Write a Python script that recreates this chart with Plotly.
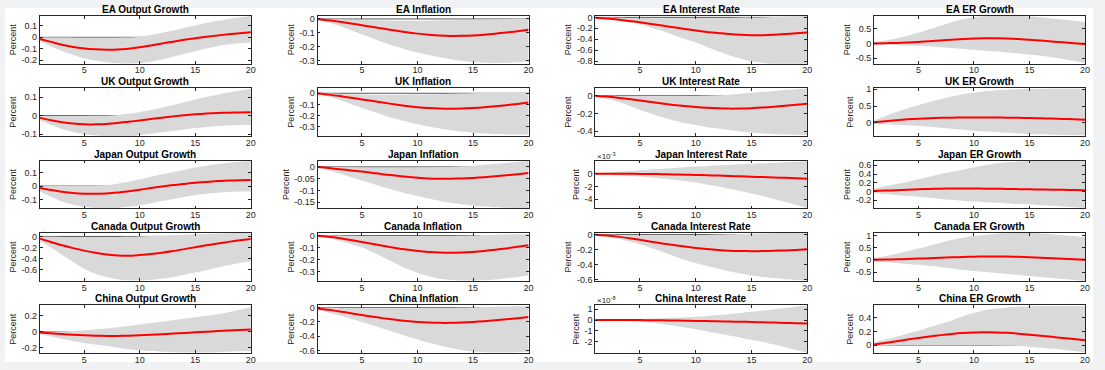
import plotly.graph_objects as go

# ---------------- data ----------------
horizon = list(range(1, 21))
countries = ["EA", "UK", "Japan", "Canada", "China"]
variables = ["Output Growth", "Inflation", "Interest Rate", "ER Growth"]

# EA
ea_out_med = [-0.015,-0.04,-0.065,-0.085,-0.098,-0.106,-0.11,-0.108,-0.1,-0.088,-0.072,-0.055,-0.038,-0.022,-0.008,0.005,0.016,0.027,0.036,0.045]
ea_out_lo = [-0.03,-0.08,-0.12,-0.155,-0.185,-0.205,-0.22,-0.23,-0.232,-0.228,-0.215,-0.195,-0.17,-0.145,-0.12,-0.098,-0.078,-0.062,-0.052,-0.045]
ea_out_hi = [0.0,-0.001,-0.002,-0.003,-0.003,-0.003,-0.003,-0.003,-0.002,0.005,0.02,0.04,0.06,0.085,0.105,0.125,0.145,0.162,0.177,0.188]

ea_inf_med = [-0.002,-0.01,-0.02,-0.032,-0.045,-0.058,-0.07,-0.083,-0.095,-0.105,-0.113,-0.119,-0.122,-0.121,-0.118,-0.113,-0.106,-0.097,-0.088,-0.077]
ea_inf_lo = [-0.005,-0.025,-0.05,-0.08,-0.11,-0.14,-0.17,-0.195,-0.22,-0.24,-0.258,-0.274,-0.288,-0.3,-0.308,-0.313,-0.315,-0.314,-0.31,-0.305]
ea_inf_hi = [0.0,-0.002,-0.004,-0.006,-0.008,-0.01,-0.011,-0.012,-0.012,-0.012,-0.012,-0.011,-0.01,-0.008,-0.006,-0.004,-0.002,0.0,0.002,0.004]

ea_ir_med = [-0.005,-0.02,-0.04,-0.065,-0.09,-0.12,-0.15,-0.18,-0.21,-0.24,-0.265,-0.285,-0.305,-0.318,-0.325,-0.325,-0.318,-0.305,-0.29,-0.275]
ea_ir_lo = [-0.01,-0.03,-0.06,-0.09,-0.13,-0.19,-0.25,-0.32,-0.39,-0.46,-0.54,-0.62,-0.69,-0.75,-0.8,-0.83,-0.86,-0.88,-0.89,-0.9]
ea_ir_hi = [0.0,-0.004,-0.008,-0.011,-0.013,-0.014,-0.015,-0.015,-0.015,-0.014,-0.013,-0.011,-0.009,-0.006,-0.003,0.0,0.005,0.012,0.02,0.028]

ea_er_med = [0.0,0.005,0.015,0.03,0.05,0.075,0.1,0.125,0.15,0.165,0.175,0.175,0.165,0.145,0.12,0.095,0.065,0.035,0.005,-0.025]
ea_er_lo = [-0.04,-0.05,-0.06,-0.07,-0.08,-0.1,-0.13,-0.16,-0.19,-0.22,-0.25,-0.28,-0.31,-0.34,-0.38,-0.42,-0.47,-0.53,-0.6,-0.67]
ea_er_hi = [0.05,0.1,0.17,0.26,0.36,0.48,0.6,0.72,0.82,0.89,0.93,0.95,0.96,0.95,0.92,0.89,0.85,0.81,0.77,0.73]

# UK
uk_out_med = [-0.012,-0.025,-0.035,-0.042,-0.046,-0.047,-0.045,-0.04,-0.033,-0.026,-0.018,-0.011,-0.004,0.002,0.007,0.011,0.014,0.016,0.017,0.018]
uk_out_lo = [-0.025,-0.05,-0.072,-0.088,-0.1,-0.107,-0.111,-0.112,-0.11,-0.105,-0.098,-0.09,-0.082,-0.074,-0.067,-0.061,-0.056,-0.053,-0.051,-0.05]
uk_out_hi = [-0.002,-0.002,-0.002,-0.002,-0.002,-0.001,0.0,0.004,0.01,0.019,0.03,0.043,0.057,0.072,0.087,0.1,0.112,0.124,0.135,0.145]

uk_inf_med = [-0.002,-0.012,-0.025,-0.04,-0.055,-0.07,-0.085,-0.1,-0.113,-0.124,-0.132,-0.137,-0.139,-0.137,-0.132,-0.125,-0.116,-0.106,-0.095,-0.083]
uk_inf_lo = [-0.005,-0.03,-0.06,-0.095,-0.13,-0.165,-0.198,-0.228,-0.254,-0.277,-0.297,-0.315,-0.33,-0.343,-0.353,-0.36,-0.365,-0.368,-0.369,-0.368]
uk_inf_hi = [0.0,-0.003,-0.006,-0.009,-0.011,-0.013,-0.014,-0.014,-0.013,-0.012,-0.01,-0.008,-0.005,-0.002,0.001,0.004,0.007,0.01,0.012,0.014]

uk_ir_med = [-0.002,-0.01,-0.022,-0.038,-0.055,-0.072,-0.089,-0.104,-0.117,-0.128,-0.137,-0.143,-0.146,-0.145,-0.141,-0.134,-0.125,-0.114,-0.102,-0.09]
uk_ir_lo = [-0.005,-0.03,-0.065,-0.11,-0.16,-0.205,-0.245,-0.28,-0.308,-0.332,-0.353,-0.372,-0.389,-0.404,-0.417,-0.427,-0.435,-0.44,-0.443,-0.445]
uk_ir_hi = [0.0,-0.001,-0.002,-0.002,-0.003,-0.003,-0.003,-0.003,-0.003,-0.002,0.0,0.005,0.012,0.022,0.033,0.044,0.055,0.065,0.074,0.082]

uk_er_med = [0.02,0.05,0.08,0.105,0.125,0.14,0.15,0.156,0.159,0.16,0.16,0.158,0.155,0.15,0.144,0.137,0.128,0.118,0.107,0.095]
uk_er_lo = [-0.03,-0.04,-0.055,-0.07,-0.09,-0.11,-0.14,-0.17,-0.2,-0.23,-0.255,-0.275,-0.295,-0.31,-0.325,-0.337,-0.347,-0.355,-0.362,-0.368]
uk_er_hi = [0.08,0.2,0.32,0.43,0.53,0.62,0.7,0.78,0.85,0.9,0.94,0.97,0.99,1.0,1.01,1.01,1.02,1.02,1.02,1.02]

# Japan
jp_out_med = [-0.015,-0.03,-0.043,-0.052,-0.057,-0.058,-0.055,-0.048,-0.038,-0.027,-0.015,-0.004,0.007,0.016,0.024,0.031,0.037,0.041,0.044,0.045]
jp_out_lo = [-0.04,-0.08,-0.115,-0.14,-0.155,-0.163,-0.166,-0.163,-0.155,-0.143,-0.128,-0.112,-0.096,-0.081,-0.068,-0.057,-0.049,-0.044,-0.041,-0.04]
jp_out_hi = [0.0,0.0,0.0,0.0,0.0,0.002,0.008,0.018,0.032,0.05,0.068,0.087,0.105,0.122,0.138,0.152,0.164,0.174,0.181,0.186]

jp_inf_med = [-0.001,-0.005,-0.01,-0.015,-0.02,-0.026,-0.032,-0.037,-0.042,-0.046,-0.049,-0.05,-0.05,-0.049,-0.047,-0.044,-0.04,-0.036,-0.031,-0.026]
jp_inf_lo = [-0.003,-0.015,-0.028,-0.043,-0.058,-0.073,-0.088,-0.101,-0.113,-0.124,-0.135,-0.145,-0.153,-0.16,-0.165,-0.169,-0.172,-0.174,-0.175,-0.176]
jp_inf_hi = [0.0,-0.001,-0.002,-0.003,-0.004,-0.005,-0.005,-0.005,-0.005,-0.004,-0.003,-0.002,0.0,0.002,0.005,0.009,0.013,0.017,0.021,0.025]

# Japan interest rate, in units of 1e-3
jp_ir_scale = 1e-3
jp_ir_med = [0.0,0.0,-0.01,-0.02,-0.04,-0.06,-0.09,-0.12,-0.16,-0.2,-0.25,-0.3,-0.36,-0.42,-0.48,-0.54,-0.6,-0.66,-0.72,-0.78]
jp_ir_lo = [-0.1,-0.2,-0.3,-0.38,-0.45,-0.6,-0.75,-0.95,-1.15,-1.4,-1.7,-2.0,-2.35,-2.7,-3.1,-3.5,-3.95,-4.4,-4.9,-5.4]
jp_ir_hi = [0.08,0.18,0.3,0.42,0.54,0.66,0.78,0.9,1.0,1.1,1.2,1.3,1.4,1.48,1.56,1.64,1.72,1.8,1.86,1.92]

jp_er_med = [0.01,0.02,0.03,0.04,0.05,0.058,0.064,0.067,0.068,0.067,0.065,0.062,0.058,0.054,0.05,0.046,0.042,0.038,0.034,0.03]
jp_er_lo = [-0.04,-0.06,-0.08,-0.1,-0.12,-0.145,-0.17,-0.19,-0.21,-0.23,-0.245,-0.26,-0.275,-0.29,-0.3,-0.315,-0.33,-0.345,-0.36,-0.375]
jp_er_hi = [0.07,0.12,0.17,0.22,0.28,0.34,0.4,0.45,0.5,0.55,0.6,0.64,0.67,0.69,0.7,0.71,0.71,0.71,0.71,0.71]

# Canada
ca_out_med = [-0.04,-0.1,-0.16,-0.21,-0.255,-0.295,-0.325,-0.342,-0.348,-0.335,-0.318,-0.293,-0.263,-0.228,-0.193,-0.16,-0.128,-0.098,-0.07,-0.045]
ca_out_lo = [-0.08,-0.2,-0.33,-0.46,-0.58,-0.67,-0.73,-0.77,-0.79,-0.79,-0.78,-0.76,-0.73,-0.69,-0.65,-0.61,-0.56,-0.52,-0.48,-0.44]
ca_out_hi = [0.0,-0.005,-0.008,-0.01,-0.01,-0.01,-0.01,-0.009,-0.006,0.0,0.007,0.015,0.023,0.031,0.039,0.046,0.052,0.057,0.06,0.063]

ca_inf_med = [-0.002,-0.01,-0.022,-0.037,-0.053,-0.07,-0.087,-0.103,-0.117,-0.128,-0.136,-0.141,-0.143,-0.141,-0.136,-0.128,-0.118,-0.107,-0.094,-0.08]
ca_inf_lo = [-0.01,-0.025,-0.045,-0.07,-0.1,-0.14,-0.185,-0.23,-0.275,-0.31,-0.34,-0.36,-0.37,-0.375,-0.375,-0.372,-0.366,-0.356,-0.345,-0.333]
ca_inf_hi = [0.005,0.003,0.0,-0.002,-0.004,-0.005,-0.006,-0.006,-0.006,-0.006,-0.005,-0.004,-0.003,-0.001,0.001,0.004,0.007,0.01,0.012,0.014]

ca_ir_med = [-0.002,-0.012,-0.027,-0.047,-0.07,-0.094,-0.118,-0.14,-0.16,-0.178,-0.193,-0.205,-0.214,-0.219,-0.221,-0.22,-0.216,-0.211,-0.204,-0.197]
ca_ir_lo = [-0.005,-0.025,-0.055,-0.09,-0.13,-0.18,-0.23,-0.285,-0.335,-0.38,-0.42,-0.455,-0.49,-0.52,-0.545,-0.565,-0.58,-0.595,-0.605,-0.612]
ca_ir_hi = [0.0,-0.002,-0.004,-0.006,-0.008,-0.009,-0.01,-0.01,-0.009,-0.007,-0.004,0.0,0.004,0.008,0.012,0.015,0.018,0.02,0.021,0.022]

ca_er_med = [0.0,0.01,0.02,0.035,0.05,0.068,0.086,0.103,0.118,0.13,0.137,0.138,0.133,0.122,0.106,0.087,0.066,0.044,0.022,0.0]
ca_er_lo = [-0.07,-0.1,-0.13,-0.165,-0.2,-0.25,-0.3,-0.35,-0.41,-0.46,-0.5,-0.54,-0.58,-0.62,-0.66,-0.7,-0.74,-0.78,-0.82,-0.86]
ca_er_hi = [0.08,0.15,0.25,0.35,0.46,0.58,0.7,0.81,0.9,0.97,1.03,1.07,1.09,1.1,1.1,1.08,1.05,1.01,0.97,0.93]

# China
cn_out_med = [-0.01,-0.02,-0.03,-0.038,-0.045,-0.05,-0.053,-0.053,-0.05,-0.045,-0.039,-0.032,-0.024,-0.016,-0.008,0.0,0.008,0.015,0.022,0.028]
cn_out_lo = [-0.03,-0.06,-0.09,-0.115,-0.14,-0.16,-0.18,-0.2,-0.218,-0.232,-0.243,-0.251,-0.257,-0.26,-0.261,-0.26,-0.257,-0.252,-0.246,-0.24]
cn_out_hi = [0.0,0.002,0.005,0.01,0.017,0.027,0.04,0.055,0.072,0.09,0.108,0.126,0.144,0.162,0.18,0.2,0.22,0.245,0.275,0.31]

cn_inf_med = [-0.01,-0.03,-0.053,-0.078,-0.103,-0.127,-0.15,-0.17,-0.187,-0.2,-0.208,-0.213,-0.213,-0.208,-0.2,-0.19,-0.178,-0.163,-0.147,-0.13]
cn_inf_lo = [-0.03,-0.07,-0.11,-0.155,-0.2,-0.25,-0.3,-0.35,-0.4,-0.445,-0.49,-0.53,-0.565,-0.595,-0.615,-0.625,-0.63,-0.63,-0.625,-0.615]
cn_inf_hi = [0.0,-0.002,-0.004,-0.006,-0.008,-0.01,-0.011,-0.012,-0.012,-0.011,-0.009,-0.006,-0.003,0.0,0.004,0.008,0.012,0.016,0.019,0.022]

# China interest rate, in units of 1e-8
cn_ir_scale = 1e-8
cn_ir_med = [0.0,0.0,0.0,-0.01,-0.01,-0.02,-0.03,-0.04,-0.06,-0.08,-0.1,-0.12,-0.14,-0.16,-0.18,-0.21,-0.24,-0.27,-0.3,-0.33]
cn_ir_lo = [-0.02,-0.05,-0.08,-0.12,-0.17,-0.25,-0.36,-0.5,-0.67,-0.86,-1.05,-1.24,-1.43,-1.62,-1.82,-2.03,-2.26,-2.5,-2.76,-3.03]
cn_ir_hi = [0.02,0.04,0.06,0.08,0.1,0.13,0.16,0.2,0.25,0.3,0.37,0.45,0.54,0.64,0.75,0.86,0.98,1.1,1.22,1.35]

cn_er_med = [0.01,0.03,0.055,0.08,0.103,0.125,0.145,0.162,0.175,0.183,0.186,0.185,0.178,0.165,0.15,0.135,0.12,0.104,0.088,0.072]
cn_er_lo = [-0.01,-0.005,-0.002,0.0,0.001,0.002,0.002,0.002,0.002,0.001,0.0,-0.003,-0.008,-0.015,-0.025,-0.038,-0.052,-0.068,-0.088,-0.11]
cn_er_hi = [0.04,0.08,0.12,0.165,0.21,0.26,0.31,0.36,0.42,0.47,0.51,0.535,0.55,0.56,0.565,0.57,0.57,0.57,0.57,0.565]

x_tickvals = [5, 10, 15, 20]

# ---------------- panel specs (styling) ----------------
S1 = 1.0
panels = [
    # row EA
    dict(med=ea_out_med, lo=ea_out_lo, hi=ea_out_hi, s=S1, yr=[-0.232, 0.19], tv=[-0.2, -0.1, 0, 0.1], tt=["-0.2", "-0.1", "0", "0.1"]),
    dict(med=ea_inf_med, lo=ea_inf_lo, hi=ea_inf_hi, s=S1, yr=[-0.32, 0.023], tv=[-0.3, -0.2, -0.1, 0], tt=["-0.3", "-0.2", "-0.1", "0"]),
    dict(med=ea_ir_med, lo=ea_ir_lo, hi=ea_ir_hi, s=S1, yr=[-0.845, 0.03], tv=[-0.8, -0.6, -0.4, -0.2, 0], tt=["-0.8", "-0.6", "-0.4", "-0.2", "0"]),
    dict(med=ea_er_med, lo=ea_er_lo, hi=ea_er_hi, s=S1, yr=[-0.69, 0.94], tv=[-0.5, 0, 0.5], tt=["-0.5", "0", "0.5"]),
    # row UK
    dict(med=uk_out_med, lo=uk_out_lo, hi=uk_out_hi, s=S1, yr=[-0.11, 0.148], tv=[-0.1, 0, 0.1], tt=["-0.1", "0", "0.1"]),
    dict(med=uk_inf_med, lo=uk_inf_lo, hi=uk_inf_hi, s=S1, yr=[-0.383, 0.046], tv=[-0.3, -0.2, -0.1, 0], tt=["-0.3", "-0.2", "-0.1", "0"]),
    dict(med=uk_ir_med, lo=uk_ir_lo, hi=uk_ir_hi, s=S1, yr=[-0.457, 0.086], tv=[-0.4, -0.2, 0], tt=["-0.4", "-0.2", "0"]),
    dict(med=uk_er_med, lo=uk_er_lo, hi=uk_er_hi, s=S1, yr=[-0.39, 1.03], tv=[0, 0.5, 1], tt=["0", "0.5", "1"]),
    # row Japan
    dict(med=jp_out_med, lo=jp_out_lo, hi=jp_out_hi, s=S1, yr=[-0.167, 0.19], tv=[-0.1, 0, 0.1], tt=["-0.1", "0", "0.1"]),
    dict(med=jp_inf_med, lo=jp_inf_lo, hi=jp_inf_hi, s=S1, yr=[-0.177, 0.027], tv=[-0.15, -0.1, -0.05, 0], tt=["-0.15", "-0.1", "-0.05", "0"]),
    dict(med=jp_ir_med, lo=jp_ir_lo, hi=jp_ir_hi, s=jp_ir_scale, yr=[-5.45e-3, 2.05e-3], tv=[-4e-3, -2e-3, 0], tt=["-4", "-2", "0"], exp="-3"),
    dict(med=jp_er_med, lo=jp_er_lo, hi=jp_er_hi, s=S1, yr=[-0.39, 0.71], tv=[-0.2, 0, 0.2, 0.4, 0.6], tt=["-0.2", "0", "0.2", "0.4", "0.6"]),
    # row Canada
    dict(med=ca_out_med, lo=ca_out_lo, hi=ca_out_hi, s=S1, yr=[-0.8, 0.063], tv=[-0.6, -0.4, -0.2, 0], tt=["-0.6", "-0.4", "-0.2", "0"]),
    dict(med=ca_inf_med, lo=ca_inf_lo, hi=ca_inf_hi, s=S1, yr=[-0.378, 0.022], tv=[-0.3, -0.2, -0.1, 0], tt=["-0.3", "-0.2", "-0.1", "0"]),
    dict(med=ca_ir_med, lo=ca_ir_lo, hi=ca_ir_hi, s=S1, yr=[-0.617, 0.022], tv=[-0.6, -0.4, -0.2, 0], tt=["-0.6", "-0.4", "-0.2", "0"]),
    dict(med=ca_er_med, lo=ca_er_lo, hi=ca_er_hi, s=S1, yr=[-0.86, 1.1], tv=[-0.5, 0, 0.5, 1], tt=["-0.5", "0", "0.5", "1"]),
    # row China
    dict(med=cn_out_med, lo=cn_out_lo, hi=cn_out_hi, s=S1, yr=[-0.27, 0.33], tv=[-0.2, 0, 0.2], tt=["-0.2", "0", "0.2"]),
    dict(med=cn_inf_med, lo=cn_inf_lo, hi=cn_inf_hi, s=S1, yr=[-0.64, 0.033], tv=[-0.6, -0.4, -0.2, 0], tt=["-0.6", "-0.4", "-0.2", "0"]),
    dict(med=cn_ir_med, lo=cn_ir_lo, hi=cn_ir_hi, s=cn_ir_scale, yr=[-3.06e-8, 1.35e-8], tv=[-2e-8, -1e-8, 0, 1e-8], tt=["-2", "-1", "0", "1"], exp="-8"),
    dict(med=cn_er_med, lo=cn_er_lo, hi=cn_er_hi, s=S1, yr=[-0.12, 0.58], tv=[0, 0.2, 0.4], tt=["0", "0.2", "0.4"]),
]

W, Hpx = 1105, 370
col_px = [(40, 252), (319, 531), (598, 811), (878, 1090)]
row_top0, row_pitch, row_h = 12, 74, 49

FONT = "Liberation Sans, Arial, Helvetica, sans-serif"
AX = "#262626"
BAND = "#d9d9d9"

fig = go.Figure()
layout = dict(
    width=W, height=Hpx, margin=dict(l=0, r=0, t=0, b=0),
    paper_bgcolor="#f1f2f4", plot_bgcolor="white", showlegend=False,
    font=dict(family=FONT, size=9, color=AX),
)
annotations = []
shapes = [dict(type="rect", xref="paper", yref="paper", x0=5 / W, x1=1098 / W,
               y0=1 - 366 / Hpx, y1=1 - 4 / Hpx, fillcolor="white", line=dict(width=0), layer="below")]

for i, p in enumerate(panels):
    r, c = divmod(i, 4)
    k = i + 1
    xa = "x" if k == 1 else f"x{k}"
    ya = "y" if k == 1 else f"y{k}"
    x0, x1 = col_px[c]
    top = row_top0 + r * row_pitch
    bot = top + row_h
    s = p["s"]
    lo = [v * s for v in p["lo"]]
    hi = [v * s for v in p["hi"]]
    med = [v * s for v in p["med"]]
    fig.add_trace(go.Scatter(x=horizon, y=lo, mode="lines", line=dict(width=0, color=BAND, shape="spline", smoothing=0.8),
                             xaxis=xa, yaxis=ya, hoverinfo="skip"))
    fig.add_trace(go.Scatter(x=horizon, y=hi, mode="lines", fill="tonexty", fillcolor=BAND,
                             line=dict(width=0, color=BAND, shape="spline", smoothing=0.8),
                             xaxis=xa, yaxis=ya, hoverinfo="skip"))
    fig.add_trace(go.Scatter(x=horizon, y=med, mode="lines", line=dict(width=2, color="#ff0000", shape="spline", smoothing=0.8),
                             xaxis=xa, yaxis=ya, hoverinfo="skip"))
    axname_x = "xaxis" if k == 1 else f"xaxis{k}"
    axname_y = "yaxis" if k == 1 else f"yaxis{k}"
    layout[axname_x] = dict(
        domain=[x0 / W, x1 / W], anchor=ya, range=[1, 20], tickvals=x_tickvals,
        ticks="inside", ticklen=3, tickwidth=0.8, tickcolor=AX, mirror="allticks",
        showline=True, linecolor=AX, linewidth=0.8, showgrid=False, zeroline=False,
        tickfont=dict(size=9, color=AX, family=FONT), ticklabelstandoff=-2,
    )
    layout[axname_y] = dict(
        domain=[1 - bot / Hpx, 1 - top / Hpx], anchor=xa, range=p["yr"], tickvals=p["tv"], ticktext=p["tt"],
        ticks="inside", ticklen=3, tickwidth=0.8, tickcolor=AX, mirror="allticks",
        showline=True, linecolor=AX, linewidth=0.8, showgrid=False, zeroline=False,
        tickfont=dict(size=9, color=AX, family=FONT),
        title=dict(text="Percent", font=dict(size=9, color=AX, family=FONT), standoff=3),
    )
    # zero reference line below the band
    shapes.append(dict(type="line", xref=f"{xa} domain", yref=ya, x0=0, x1=1, y0=0, y1=0,
                       line=dict(color="#5a5a5a", width=1), layer="below"))
    annotations.append(dict(
        text=f"<b>{countries[r]} {variables[c]}</b>", xref="paper", yref="paper",
        x=(x0 + x1) / 2 / W, y=1 - top / Hpx, xanchor="center", yanchor="bottom",
        showarrow=False, font=dict(size=10, color="black", family=FONT), yshift=-1,
    ))
    if "exp" in p:
        annotations.append(dict(
            text=f"×10<sup>{p['exp']}</sup>", xref="paper", yref="paper",
            x=x0 / W, y=1 - top / Hpx, xanchor="left", yanchor="bottom",
            showarrow=False, font=dict(size=8, color=AX, family=FONT), yshift=-2,
        ))

layout["annotations"] = annotations
layout["shapes"] = shapes
fig.update_layout(**layout)
fig.write_html("out.html", config={"displayModeBar": False},
               post_script="document.body.style.margin='0';document.body.style.padding='0';")
